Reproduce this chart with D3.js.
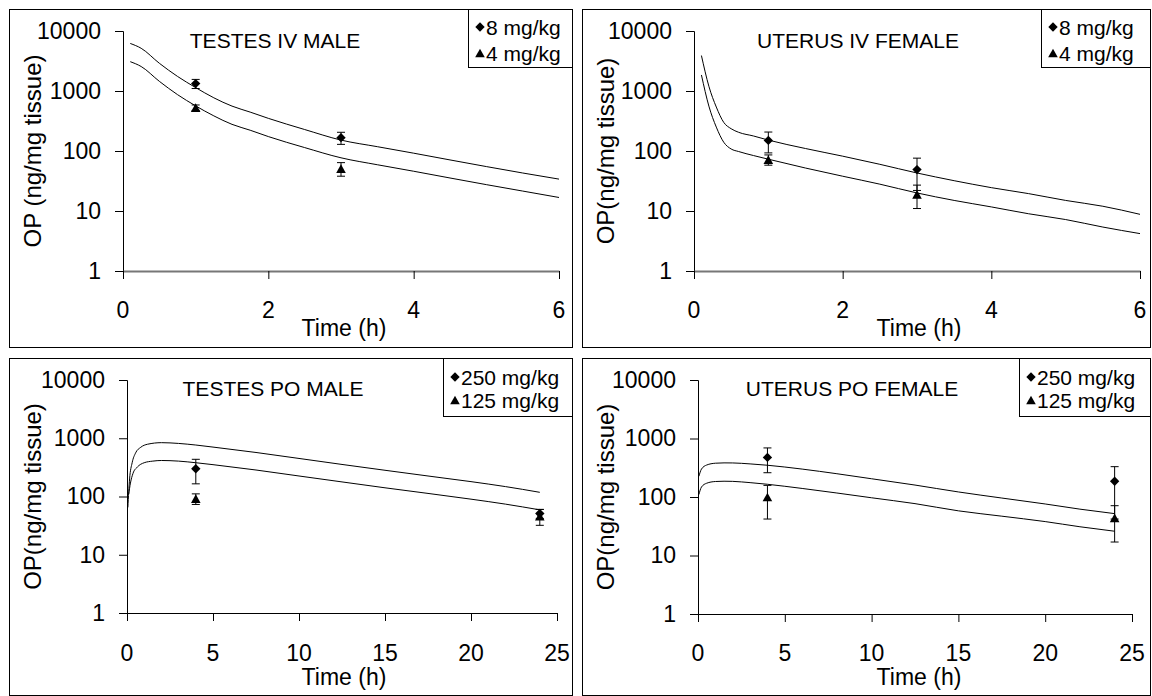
<!DOCTYPE html>
<html>
<head>
<meta charset="utf-8">
<script src="https://cdn.jsdelivr.net/npm/d3@7"></script>
<style>
  html, body { margin: 0; padding: 0; background: #fff; }
  svg { display: block; font-family: "Liberation Sans", Arial, sans-serif; }
</style>
</head>
<body>
<svg id="chart" width="1152" height="696"></svg>
<script>
// ---- Data -------------------------------------------------------------
const yTicks = [1, 10, 100, 1000, 10000];
const ivTimeTicks = [0, 2, 4, 6];
const poTimeTicks = [0, 5, 10, 15, 20, 25];

const ivDoses = ["8 mg/kg", "4 mg/kg"];
const poDoses = ["250 mg/kg", "125 mg/kg"];

// Testes, IV dosing: model curves [time h, OP]
const testesIvHigh = [[0.1, 6200], [0.25, 5150], [0.5, 2900], [0.75, 1750], [1, 1140], [1.25, 770], [1.5, 560], [1.75, 445], [2, 350], [2.5, 228], [3, 152], [3.5, 118], [4, 92], [4.5, 71], [5, 55], [5.5, 43], [6, 34]];
const testesIvLow = [[0.1, 3080], [0.25, 2560], [0.5, 1450], [0.75, 870], [1, 565], [1.25, 385], [1.5, 278], [1.75, 222], [2, 174], [2.5, 114], [3, 77], [3.5, 59], [4, 46], [4.5, 35.5], [5, 27.5], [5.5, 21.5], [6, 16.8]];
// Testes, IV dosing: observed means and SD
const testesIvObsTime = [1, 3];
const testesIvHighMean = [1330, 167];
const testesIvHighSd = [230, 38];
const testesIvLowMean = [530, 51];
const testesIvLowSd = [55, 13];

// Uterus, IV dosing
const uterusIvHigh = [[0.1, 3900], [0.2, 1200], [0.3, 540], [0.4, 300], [0.5, 235], [0.6, 205], [0.8, 178], [1, 152], [1.5, 110], [2, 82], [2.5, 60], [3, 43], [3.5, 32], [4, 24.5], [4.5, 19.5], [5, 15], [5.5, 12], [6, 8.8]];
const uterusIvLow = [[0.1, 1850], [0.2, 560], [0.3, 250], [0.4, 140], [0.5, 108], [0.6, 98], [0.8, 84], [1, 73], [1.5, 52], [2, 38], [2.5, 28], [3, 20], [3.5, 15], [4, 11.7], [4.5, 9], [5, 7.2], [5.5, 5.4], [6, 4.2]];
const uterusIvObsTime = [1, 3];
const uterusIvHighMean = [150, 49];
const uterusIvHighSd = [57, 27];
const uterusIvLowMean = [72, 19];
const uterusIvLowSd = [14, 8];

// Testes, oral dosing
const testesPoHigh = [[0.05, 65], [0.15, 200], [0.3, 380], [0.5, 560], [0.8, 700], [1.2, 790], [2, 840], [3, 815], [4, 765], [5, 705], [7.5, 570], [10, 450], [12.5, 355], [15, 282], [17.5, 225], [20, 180], [22, 148], [24, 118]];
const testesPoLow = [[0.1, 110], [0.2, 170], [0.35, 250], [0.6, 320], [1, 380], [1.5, 405], [2, 415], [3, 405], [4, 380], [5, 352], [7.5, 285], [10, 225], [12.5, 178], [15, 141], [17.5, 113], [20, 90], [22, 74], [24, 59]];
const testesPoObsTime = [4, 24];
const testesPoHighMean = [300, 51];
const testesPoHighSd = [135, 9];
const testesPoLowMean = [92, 46];
const testesPoLowSd = [19, 14];

// Uterus, oral dosing
const uterusPoHigh = [[0.05, 226], [0.2, 300], [0.5, 352], [1, 378], [1.5, 383], [2, 382], [3, 368], [4, 349], [6, 300], [8, 250], [10, 205], [12.5, 160], [15, 122], [17.5, 96], [20, 76], [22, 62], [24, 52]];
const uterusPoLow = [[0.05, 110], [0.2, 148], [0.5, 172], [1, 184], [1.5, 186], [2, 185], [3, 176], [4, 165], [6, 140], [8, 117], [10, 97], [12.5, 77], [15, 58], [17.5, 47], [20, 38], [22, 31], [24, 26]];
const uterusPoObsTime = [4, 24];
const uterusPoHighMean = [475, 186];
const uterusPoHighSd = [215, 144];
const uterusPoLowMean = [100, 44];
const uterusPoLowSd = [58, 27];

// ---- Panels -----------------------------------------------------------
const panels = [
  {
    title: "TESTES IV MALE", yLabel: "OP (ng/mg tissue)", doses: ivDoses,
    xMax: 6, xTicks: ivTimeTicks,
    curves: [testesIvHigh, testesIvLow],
    obsTime: testesIvObsTime,
    obs: [[testesIvHighMean, testesIvHighSd], [testesIvLowMean, testesIvLowSd]],
    frame: [9, 9, 573, 348], plot: [123, 559, 31, 271],
    titleX: 275, titleY: 48, timeLabelX: 344, timeLabelY: 336, tickLabelY: 318,
    legend: [468, 9, 573, 68], legendMarkX: 480, legendRows: [27, 53], xAxisColor: "#777", xAxisWidth: 2
  },
  {
    title: "UTERUS IV FEMALE", yLabel: "OP(ng/mg tissue)", doses: ivDoses,
    xMax: 6, xTicks: ivTimeTicks,
    curves: [uterusIvHigh, uterusIvLow],
    obsTime: uterusIvObsTime,
    obs: [[uterusIvHighMean, uterusIvHighSd], [uterusIvLowMean, uterusIvLowSd]],
    frame: [582, 9, 1151, 348], plot: [694, 1140, 31, 271],
    titleX: 858, titleY: 48, timeLabelX: 919, timeLabelY: 336, tickLabelY: 318,
    legend: [1041, 9, 1151, 68], legendMarkX: 1053, legendRows: [27, 53], xAxisColor: "#777", xAxisWidth: 2
  },
  {
    title: "TESTES PO MALE", yLabel: "OP(ng/mg tissue)", doses: poDoses,
    xMax: 25, xTicks: poTimeTicks,
    curves: [testesPoHigh, testesPoLow],
    obsTime: testesPoObsTime,
    obs: [[testesPoHighMean, testesPoHighSd], [testesPoLowMean, testesPoLowSd]],
    frame: [9, 358, 573, 696], plot: [127, 557, 380, 613],
    titleX: 273, titleY: 396, timeLabelX: 344, timeLabelY: 685, tickLabelY: 661,
    legend: [443, 358, 573, 417], legendMarkX: 455, legendRows: [377, 400], xAxisColor: "#000", xAxisWidth: 1
  },
  {
    title: "UTERUS PO FEMALE", yLabel: "OP(ng/mg tissue)", doses: poDoses,
    xMax: 25, xTicks: poTimeTicks,
    curves: [uterusPoHigh, uterusPoLow],
    obsTime: uterusPoObsTime,
    obs: [[uterusPoHighMean, uterusPoHighSd], [uterusPoLowMean, uterusPoLowSd]],
    frame: [582, 358, 1151, 696], plot: [698, 1132, 380, 614],
    titleX: 852, titleY: 396, timeLabelX: 919, timeLabelY: 685, tickLabelY: 661,
    legend: [1019, 358, 1151, 417], legendMarkX: 1031, legendRows: [377, 400], xAxisColor: "#000", xAxisWidth: 1
  }
];

const svg = d3.select("#chart");

// Square diamond and triangle markers
const diamondType = {
  draw(ctx, size) {
    const r = Math.sqrt(size / 2);
    ctx.moveTo(0, -r); ctx.lineTo(r, 0); ctx.lineTo(0, r); ctx.lineTo(-r, 0); ctx.closePath();
  }
};
const triangleType = {
  draw(ctx, size) {
    const h = Math.sqrt(size * 2 / 1.1);
    const w = h * 1.1;
    ctx.moveTo(0, -h / 2); ctx.lineTo(w / 2, h / 2); ctx.lineTo(-w / 2, h / 2); ctx.closePath();
  }
};
const markers = [d3.symbol().type(diamondType).size(44), d3.symbol().type(triangleType).size(42)];

panels.forEach(p => {
  const g = svg.append("g");
  const [fx0, fy0, fx1, fy1] = p.frame;
  const [left, right, top, bottom] = p.plot;

  // panel frame
  g.append("rect")
    .attr("x", fx0 + 0.5).attr("y", fy0 + 0.5)
    .attr("width", fx1 - fx0 - 1).attr("height", fy1 - fy0 - 1)
    .attr("fill", "#fff").attr("stroke", "#000").attr("stroke-width", 1);

  const x = d3.scaleLinear().domain([0, p.xMax]).range([left, right]);
  const y = d3.scaleLog().domain([1, 10000]).range([bottom, top]);

  // y axis
  const yAxis = g.append("g").attr("transform", `translate(${left},0)`)
    .call(d3.axisLeft(y).tickValues(yTicks).tickFormat(d3.format("d")).tickSize(8).tickPadding(14));
  yAxis.select(".domain").attr("stroke", "#000");
  yAxis.selectAll("text").attr("font-size", 23).attr("fill", "#000")
    .attr("font-family", "'Liberation Sans', Arial, sans-serif");

  // x axis
  const xAxis = g.append("g").attr("transform", `translate(0,${bottom})`)
    .call(d3.axisBottom(x).tickValues(p.xTicks).tickFormat(d3.format("d")).tickSize(8).tickSizeOuter(0));
  xAxis.select(".domain").attr("stroke", p.xAxisColor).attr("stroke-width", p.xAxisWidth);
  xAxis.selectAll("text").remove();
  g.selectAll(".xlab").data(p.xTicks).enter().append("text")
    .attr("x", d => x(d)).attr("y", p.tickLabelY)
    .attr("text-anchor", "middle").attr("font-size", 23).text(d => d);

  // titles
  g.append("text").attr("x", p.titleX).attr("y", p.titleY)
    .attr("text-anchor", "middle").attr("font-size", 21).text(p.title);
  g.append("text").attr("x", p.timeLabelX).attr("y", p.timeLabelY)
    .attr("text-anchor", "middle").attr("font-size", 23).text("Time (h)");
  g.append("text")
    .attr("transform", `translate(${fx0 + 23},${(top + bottom) / 2}) rotate(-90)`)
    .attr("text-anchor", "middle").attr("dominant-baseline", "central")
    .attr("font-size", 24).text(p.yLabel);

  // model curves
  const line = d3.line().x(d => x(d[0])).y(d => y(d[1])).curve(d3.curveMonotoneX);
  p.curves.forEach(c => {
    g.append("path").datum(c).attr("d", line)
      .attr("fill", "none").attr("stroke", "#000").attr("stroke-width", 1);
  });

  // observations with SD error bars
  p.obs.forEach(([means, sds], si) => {
    means.forEach((m, i) => {
      const t = p.obsTime[i];
      const cx = x(t);
      const lo = y(m - sds[i]), hi = y(m + sds[i]);
      g.append("line").attr("x1", cx).attr("x2", cx).attr("y1", lo).attr("y2", hi)
        .attr("stroke", "#000").attr("stroke-width", 1);
      [lo, hi].forEach(yy => {
        g.append("line").attr("x1", cx - 4).attr("x2", cx + 4).attr("y1", yy).attr("y2", yy)
          .attr("stroke", "#000").attr("stroke-width", 1);
      });
      g.append("path").attr("d", markers[si]())
        .attr("transform", `translate(${cx},${y(m)})`).attr("fill", "#000");
    });
  });

  // legend
  const [lx0, ly0, lx1, ly1] = p.legend;
  g.append("rect").attr("x", lx0 + 0.5).attr("y", ly0 + 0.5)
    .attr("width", lx1 - lx0 - 1).attr("height", ly1 - ly0 - 1)
    .attr("fill", "#fff").attr("stroke", "#000");
  p.doses.forEach((d, i) => {
    const ry = p.legendRows[i];
    g.append("path").attr("d", markers[i]())
      .attr("transform", `translate(${p.legendMarkX},${ry})`).attr("fill", "#000");
    g.append("text").attr("x", p.legendMarkX + 6).attr("y", ry)
      .attr("dominant-baseline", "central").attr("font-size", 21).text(d);
  });
});
</script>
</body>
</html>
